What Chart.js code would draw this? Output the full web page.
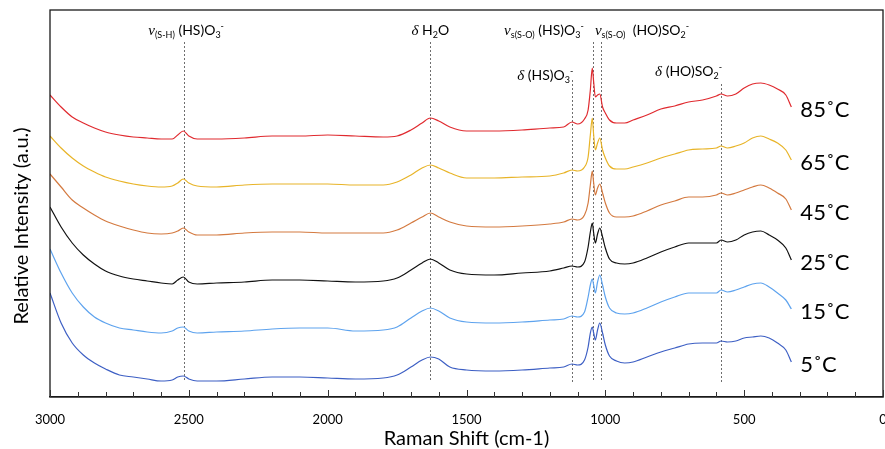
<!DOCTYPE html>
<html>
<head>
<meta charset="utf-8">
<script src="https://cdn.jsdelivr.net/npm/chart.js@4"></script>
<style>
  html, body { margin: 0; padding: 0; background: #fff; }
  canvas { display: block; }
</style>
</head>
<body>
<canvas id="c" width="885" height="449"></canvas>
<script>
// Raman shift positions (cm-1) shared by every spectrum
const shift = [3000,2960,2920,2880,2840,2800,2750,2700,2650,2600,
               2560,2540,2520,2500,2470,2400,2300,2200,2100,2000,
               1900,1800,1750,1700,1660,1630,1600,1560,1500,1400,
               1300,1200,1150,1120,1100,1075,1062,1054,1047,1042,
               1036,1028,1020,1010,1000,985,960,930,900,850,
               800,750,700,650,600,583,560,530,500,470,
               440,410,380,350,330];

// Offset spectra (relative intensity, a.u.)
const t85 = [305,293,283,277,272,268,265,263,262,261,
             261,265,269,264,261,261,262,264,264,265,
             264,263,264,270,277,282,279,273,269,269,
             270,272,273,278,276,281,290,310,332,318,
             303,305,306,293,287,280,277,277,280,285,
             291,294,298,300,304,306,304,306,312,316,
             317,315,311,305,293];
const t65 = [264,252,242,234,228,223,219,216,214,213,
             214,217,221,217,214,213,215,216,216,216,
             215,215,218,225,232,235,232,227,222,222,
             223,224,227,230,229,233,243,265,282,265,
             250,257,262,250,242,234,231,231,233,237,
             242,246,250,251,252,254,252,254,257,262,
             264,261,257,250,240];
const t45 = [226,213,200,192,185,179,174,170,167,166,
             167,169,172,168,165,165,167,168,168,167,
             167,167,170,177,183,187,183,178,174,173,
             174,176,178,181,180,185,197,215,229,217,
             205,212,216,207,197,187,183,183,184,189,
             195,199,203,203,205,207,205,207,210,213,
             215,212,207,201,190];
const t25 = [193,173,157,145,136,129,124,121,119,117,
             116,120,123,118,116,117,118,120,120,119,
             118,119,122,130,137,141,137,130,126,125,
             127,129,132,134,133,138,153,168,177,167,
             157,166,172,163,152,141,137,136,137,142,
             148,153,157,157,157,160,158,160,165,168,
             169,165,160,152,140];
const t15 = [151,127,107,93,83,77,72,70,68,67,
             69,72,73,69,67,68,69,71,72,72,
             69,70,73,82,89,92,89,82,78,77,
             78,80,81,84,83,88,103,115,121,115,
             107,118,125,115,103,92,87,86,87,92,
             98,103,107,107,107,110,108,110,113,116,
             117,113,107,100,91];
const t5  = [107,77,57,45,37,31,25,23,21,19,
             20,23,24,21,19,19,21,23,23,22,
             21,22,25,33,40,43,41,33,30,29,
             30,32,33,36,35,40,53,67,73,67,
             60,70,77,67,55,44,39,37,38,43,
             48,52,56,57,57,59,58,59,62,63,
             64,62,57,50,38];

const temps  = ['85˚C', '65˚C', '45˚C', '25˚C', '15˚C', '5˚C'];
const series = [t85, t65, t45, t25, t15, t5];
const colors = ['#e02a2f', '#e8b428', '#d47a40', '#111111', '#5ea3ee', '#3d5fc4'];

// Band assignments: position (cm-1) and label pieces
const bandShifts = [2517, 1630, 1119, 1045, 1016, 583];
const bandLabels = [
  [['ν','g'],['(S-H)','sub'],[' (HS)O','t'],['3','sub'],['-','sup']],
  [['δ','g'],[' H','t'],['2','sub'],['O','t']],
  [['δ','g'],[' (HS)O','t'],['3','sub'],['-','sup']],
  [['ν','g'],['s(S-O)','sub'],[' (HS)O','t'],['3','sub'],['-','sup']],
  [['ν','g'],['s(S-O)','sub'],['  (HO)SO','t'],['2','sub'],['-','sup']],
  [['δ','g'],[' (HO)SO','t'],['2','sub'],['-','sup']]
];
// label row baseline, horizontal placement and dotted-line top for each band
const bandLayout = [
  {base: 35, align: 'center', dx: 2,  top: 42},
  {base: 35, align: 'center', dx: 0,  top: 42},
  {base: 80, align: 'right',  dx: 1,  top: 80},
  {base: 35, align: 'right',  dx: -9, top: 42},
  {base: 35, align: 'left',   dx: -6, top: 42},
  {base: 76, align: 'right',  dx: 1,  top: 84}
];

const runFont = {
  g:   {font: 'italic 15px "Liberation Serif"', dy: 0},
  t:   {font: '14px Lato', dy: 0},
  sub: {font: '9px Lato', dy: 3},
  sup: {font: '9px Lato', dy: -6}
};

function drawRuns(ctx, runs, x, y, align) {
  let w = 0;
  runs.forEach(([s, k]) => { ctx.font = runFont[k].font; w += ctx.measureText(s).width; });
  let cx = align === 'center' ? x - w / 2 : (align === 'right' ? x - w : x);
  ctx.textBaseline = 'alphabetic';
  ctx.textAlign = 'left';
  runs.forEach(([s, k]) => {
    ctx.font = runFont[k].font;
    ctx.fillText(s, cx, y + runFont[k].dy);
    cx += ctx.measureText(s).width;
  });
}

const bandLines = {
  id: 'bandLines',
  beforeDatasetsDraw(chart) {
    const {ctx, scales: {x}} = chart;
    ctx.save();
    ctx.strokeStyle = '#6e6e6e';
    ctx.lineWidth = 1;
    ctx.setLineDash([2, 2]);
    bandShifts.forEach((s, i) => {
      const px = Math.round(x.getPixelForValue(s)) + 0.5;
      ctx.beginPath();
      ctx.moveTo(px, bandLayout[i].top);
      ctx.lineTo(px, 382);
      ctx.stroke();
    });
    ctx.restore();
  },
  afterDraw(chart) {
    const {ctx, chartArea: a, scales: {x}} = chart;
    ctx.save();
    // frame around the plot
    ctx.strokeStyle = '#1a1a1a';
    ctx.lineWidth = 1.3;
    ctx.strokeRect(a.left, a.top, a.right - a.left, a.bottom - a.top);
    // inward tick marks every 100 cm-1
    ctx.lineWidth = 1;
    ctx.strokeStyle = '#333';
    for (let v = 0; v <= 3000; v += 100) {
      const px = Math.round(x.getPixelForValue(v)) + 0.5;
      const len = v % 500 === 0 ? 7 : 5;
      ctx.beginPath();
      ctx.moveTo(px, a.bottom);
      ctx.lineTo(px, a.bottom - len);
      ctx.stroke();
    }
    // band labels
    ctx.fillStyle = '#000';
    bandShifts.forEach((s, i) => {
      const L = bandLayout[i];
      drawRuns(ctx, bandLabels[i], x.getPixelForValue(s) + L.dx, L.base, L.align);
    });
    // temperature labels beside each spectrum
    ctx.font = '22px Lato';
    ctx.textAlign = 'left';
    ctx.textBaseline = 'middle';
    chart.data.datasets.forEach((ds, i) => {
      const pts = chart.getDatasetMeta(i).data;
      const last = pts[pts.length - 1];
      ctx.fillText(temps[i], last.x + 9, last.y + 3);
    });
    // y-axis title
    ctx.translate(22, 226);
    ctx.rotate(-Math.PI / 2);
    ctx.textAlign = 'center';
    ctx.font = '20px Lato';
    ctx.fillText('Relative Intensity (a.u.)', 0, 0);
    ctx.restore();
  }
};

new Chart(document.getElementById('c'), {
  type: 'line',
  data: {
    datasets: series.map((vals, i) => ({
      label: temps[i],
      data: shift.map((s, j) => ({x: s, y: vals[j]})),
      borderColor: colors[i],
      borderWidth: 1.2,
      pointRadius: 0,
      cubicInterpolationMode: 'monotone',
      fill: false
    }))
  },
  options: {
    responsive: false,
    devicePixelRatio: 1,
    animation: false,
    layout: {padding: {left: 50, right: 2, top: 10, bottom: 0}},
    plugins: {legend: {display: false}, tooltip: {enabled: false}},
    scales: {
      x: {
        type: 'linear',
        reverse: true,
        min: 0,
        max: 3000,
        afterFit(s) { s.height = 52; s.paddingLeft = 0; s.paddingRight = 0; },
        border: {display: true, color: '#1a1a1a', width: 1.3},
        grid: {display: false, drawTicks: false},
        ticks: {stepSize: 500, padding: 15, color: '#000', maxRotation: 0, autoSkip: false,
                font: {family: 'Lato', size: 13}, callback: v => String(v)},
        title: {display: true, text: 'Raman Shift (cm-1)', color: '#000',
                font: {family: 'Lato', size: 20, lineHeight: 1}, padding: {top: 0, bottom: 0}}
      },
      y: {display: false, min: 3, max: 390}
    }
  },
  plugins: [bandLines]
});
</script>
</body>
</html>
